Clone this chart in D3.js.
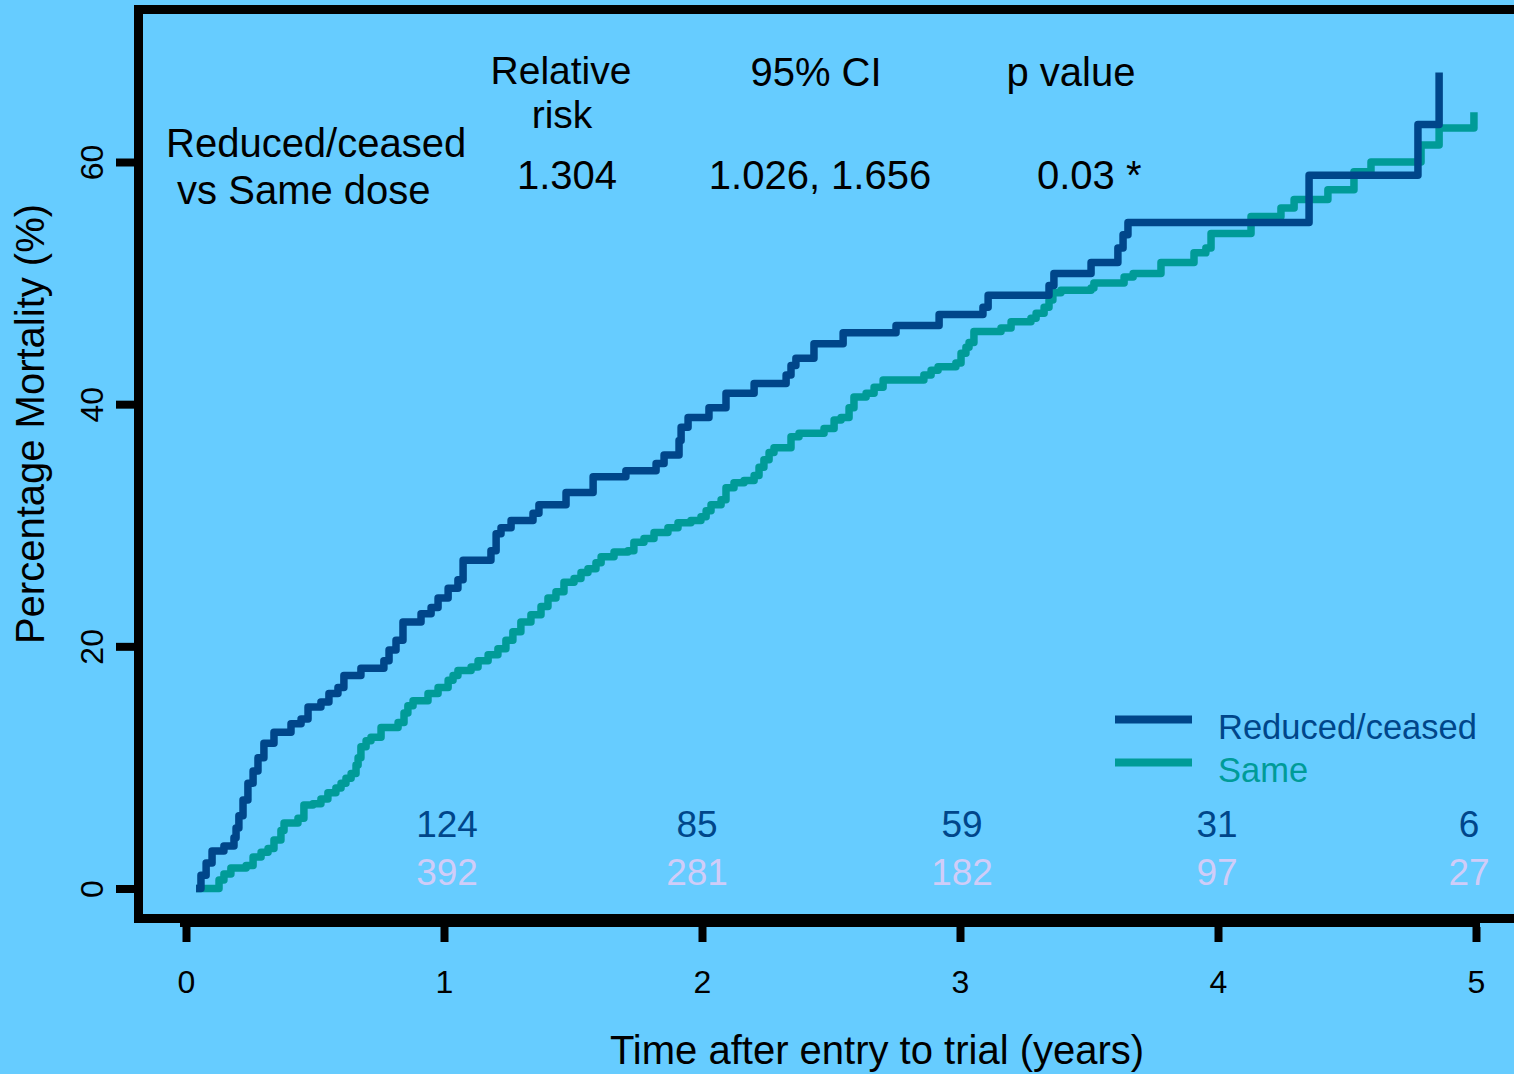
<!DOCTYPE html>
<html>
<head>
<meta charset="utf-8">
<script src="https://cdn.jsdelivr.net/npm/d3@7"></script>
<style>
  html, body { margin: 0; padding: 0; background: #66ccff; }
  svg { display: block; }
  text { font-family: "Liberation Sans", Arial, Helvetica, sans-serif; }
</style>
</head>
<body>
<svg id="chart" width="1514" height="1074"></svg>
<script>
// ---------------- data ----------------
const xTickValues = [0, 1, 2, 3, 4, 5];
const yTickValues = [0, 20, 40, 60];

const seriesNames = ["Reduced/ceased", "Same"];

// Kaplan-Meier style cumulative mortality (time in years, value in %)
const reducedTime = [0.039,0.058,0.078,0.101,0.147,0.186,0.194,0.205,0.221,0.240,0.260,0.279,0.302,0.341,0.407,0.446,0.473,0.523,0.554,0.589,0.612,0.678,0.767,0.787,0.814,0.841,0.911,0.950,0.977,1.016,1.054,1.074,1.182,1.202,1.221,1.260,1.345,1.368,1.473,1.578,1.705,1.822,1.853,1.911,1.919,1.946,2.027,2.093,2.202,2.326,2.345,2.364,2.434,2.547,2.752,2.919,3.089,3.109,3.345,3.364,3.508,3.612,3.632,3.651,4.353,4.775,4.857];
const reducedPct  = [0,1.1,2.1,3.1,3.5,4.2,5.0,6.0,7.3,8.7,9.7,10.8,12.0,12.9,13.6,14.0,15.0,15.4,16.1,16.6,17.6,18.2,18.8,19.7,20.5,22.0,22.7,23.2,24.0,24.8,25.5,27.1,27.9,29.3,29.8,30.4,31.0,31.7,32.7,34.0,34.5,35.1,35.8,37.0,38.1,38.9,39.7,40.9,41.7,42.4,43.2,43.8,45.0,45.9,46.5,47.4,48.0,49.0,49.8,50.8,51.7,52.9,54.0,55.0,58.9,63.1,67.4];

const sameTime = [0.039,0.128,0.147,0.174,0.233,0.260,0.291,0.318,0.341,0.368,0.380,0.434,0.457,0.492,0.523,0.550,0.581,0.601,0.620,0.640,0.659,0.667,0.678,0.698,0.717,0.756,0.822,0.845,0.860,0.880,0.938,0.977,1.016,1.035,1.054,1.105,1.132,1.171,1.209,1.240,1.267,1.298,1.337,1.376,1.403,1.434,1.465,1.504,1.531,1.558,1.589,1.609,1.659,1.713,1.736,1.775,1.814,1.868,1.907,1.957,1.996,2.016,2.035,2.074,2.093,2.124,2.163,2.202,2.221,2.240,2.260,2.279,2.345,2.376,2.473,2.512,2.539,2.570,2.589,2.636,2.667,2.702,2.860,2.888,2.915,2.984,3.004,3.023,3.035,3.054,3.159,3.198,3.275,3.295,3.326,3.345,3.360,3.391,3.508,3.519,3.636,3.671,3.779,3.907,3.953,3.973,4.128,4.244,4.295,4.426,4.527,4.593,4.787,4.857,4.992];
const samePct  = [0,0.7,1.2,1.7,1.9,2.6,3.0,3.3,4.0,4.8,5.4,5.8,6.9,7.0,7.4,7.9,8.3,8.7,9.1,9.5,10.2,10.8,11.7,12.2,12.5,13.3,13.7,14.5,15.1,15.5,16.1,16.6,17.2,17.6,18.0,18.3,18.8,19.3,19.8,20.5,21.2,22.0,22.6,23.3,24.0,24.5,25.3,25.6,26.1,26.4,26.9,27.4,27.8,27.9,28.6,28.9,29.4,29.8,30.2,30.4,30.7,31.2,31.7,32.1,33.1,33.5,33.7,34.1,34.8,35.4,36.0,36.4,37.3,37.6,38.0,38.7,38.9,39.7,40.6,40.9,41.4,42.0,42.4,42.8,43.1,43.4,44.2,44.7,45.1,46.0,46.3,46.8,47.1,47.5,48.0,48.6,49.2,49.4,49.6,50.0,50.5,50.8,51.7,52.5,52.9,54.1,55.5,56.2,56.9,57.7,59.2,60.0,61.4,62.8,64.1];

// numbers at risk
const atRiskYears   = [1, 2, 3, 4, 5];
const atRiskReduced = [124, 85, 59, 31, 6];
const atRiskSame    = [392, 281, 182, 97, 27];

// statistics table
const statHeaders = ["Relative", "95% CI", "p value"];
const statValues  = ["1.304", "1.026, 1.656", "0.03 *"];
const comparisonLabel = ["Reduced/ceased", " vs Same dose"];

const xTitle = "Time after entry to trial (years)";
const yTitle = "Percentage Mortality (%)";

// ---------------- drawing ----------------
const COLORS = { reduced: "#00468a", same: "#009b98", atRiskSame: "#d0ccf8", bg: "#66ccff" };

const svg = d3.select("#chart");
const W = 1514, H = 1074;

const x = d3.scaleLinear().domain([0, 5]).range([186, 1476]);
const y = d3.scaleLinear().domain([0, 60]).range([888.5, 162]);

svg.append("rect").attr("width", W).attr("height", H).attr("fill", COLORS.bg);

// plot frame (top, left, bottom; right runs off the image)
const frame = svg.append("g").attr("stroke", "#000").attr("stroke-width", 9).attr("fill", "none");
frame.append("path").attr("d", `M${W + 10},9.5 H138.5 V918.5 H${W + 10}`).attr("stroke-linejoin", "miter");

// y axis ticks (left of frame)
const yAxis = d3.axisLeft(y).tickValues(yTickValues).tickSize(18).tickPadding(0).tickFormat(d3.format("d"));
const gy = svg.append("g").attr("transform", "translate(134,0)").call(yAxis);
gy.select(".domain").remove();
gy.selectAll(".tick line").attr("stroke", "#000").attr("stroke-width", 8);
gy.selectAll(".tick text").remove();
gy.selectAll(".tick").append("text")
  .attr("transform", "translate(-31,0) rotate(-90)")
  .attr("text-anchor", "middle")
  .attr("fill", "#000")
  .attr("font-size", 32)
  .text(d => d);

// x axis
const xAxis = d3.axisBottom(x).tickValues(xTickValues).tickSize(15).tickSizeOuter(0).tickPadding(0)
  .tickFormat(d3.format("d"));
const gx = svg.append("g").attr("transform", "translate(0,927)").call(xAxis);
gx.select(".domain").remove();
gx.append("line").attr("x1", x(0) - 6).attr("x2", x(5) + 4).attr("y1", -4.5).attr("y2", -4.5)
  .attr("stroke", "#000").attr("stroke-width", 9);
gx.selectAll(".tick line").attr("stroke", "#000").attr("stroke-width", 8);
gx.selectAll(".tick text").attr("y", 66).attr("dy", 0).attr("fill", "#000")
  .attr("font-size", 32).attr("font-family", "Liberation Sans, Arial, sans-serif");

// axis titles
svg.append("text").attr("x", 877).attr("y", 1064).attr("text-anchor", "middle")
  .attr("font-size", 40).attr("fill", "#000").text(xTitle);
svg.append("text").attr("transform", "translate(44,424) rotate(-90)").attr("text-anchor", "middle")
  .attr("font-size", 40).attr("fill", "#000").text(yTitle);

// curves
const line = d3.line().x(d => x(d[0])).y(d => y(d[1])).curve(d3.curveStepAfter);
const sameData = sameTime.map((t, i) => [t, samePct[i]]);
const reducedData = reducedTime.map((t, i) => [t, reducedPct[i]]);

svg.append("path").datum(sameData).attr("d", line)
  .attr("fill", "none").attr("stroke", COLORS.same).attr("stroke-width", 7.5)
  .attr("stroke-linejoin", "round");
svg.append("path").datum(reducedData).attr("d", line)
  .attr("fill", "none").attr("stroke", COLORS.reduced).attr("stroke-width", 7.5)
  .attr("stroke-linejoin", "round");

// statistics block
const stat = svg.append("g").attr("font-size", 40).attr("fill", "#000");
stat.append("text").attr("x", 561).attr("y", 84).attr("font-size", 39).attr("text-anchor", "middle").text(statHeaders[0]);
stat.append("text").attr("x", 562).attr("y", 128).attr("font-size", 39).attr("text-anchor", "middle").text("risk");
stat.append("text").attr("x", 816).attr("y", 86).attr("text-anchor", "middle").text(statHeaders[1]);
stat.append("text").attr("x", 1071).attr("y", 86).attr("text-anchor", "middle").text(statHeaders[2]);
stat.append("text").attr("x", 166).attr("y", 157).text(comparisonLabel[0]);
stat.append("text").attr("x", 166).attr("y", 204).attr("xml:space", "preserve").style("white-space", "pre").text(comparisonLabel[1]);
stat.append("text").attr("x", 567).attr("y", 189).attr("text-anchor", "middle").text(statValues[0]);
stat.append("text").attr("x", 820).attr("y", 189).attr("text-anchor", "middle").text(statValues[1]);
stat.append("text").attr("x", 1037).attr("y", 189).attr("text-anchor", "start").text(statValues[2]);

// legend
const legend = svg.append("g");
const legendItems = [
  { name: seriesNames[0], color: COLORS.reduced, y: 719.5, ty: 739 },
  { name: seriesNames[1], color: COLORS.same, y: 762.5, ty: 782 }
];
legendItems.forEach(it => {
  legend.append("line").attr("x1", 1115).attr("x2", 1192).attr("y1", it.y).attr("y2", it.y)
    .attr("stroke", it.color).attr("stroke-width", 8);
  legend.append("text").attr("x", 1218).attr("y", it.ty).attr("font-size", 34.5)
    .attr("fill", it.color).text(it.name);
});

// numbers at risk (small horizontal nudges as in the original layout)
const riskNudge = [3, -5, 2, -1, -7];
const risk = svg.append("g").attr("font-size", 37).attr("text-anchor", "middle");
risk.selectAll("text.r").data(atRiskYears).enter().append("text").attr("class", "r")
  .attr("x", (d, i) => x(d) + riskNudge[i]).attr("y", 837).attr("fill", COLORS.reduced)
  .text((d, i) => atRiskReduced[i]);
risk.selectAll("text.s").data(atRiskYears).enter().append("text").attr("class", "s")
  .attr("x", (d, i) => x(d) + riskNudge[i]).attr("y", 885).attr("fill", COLORS.atRiskSame)
  .text((d, i) => atRiskSame[i]);
</script>
</body>
</html>
